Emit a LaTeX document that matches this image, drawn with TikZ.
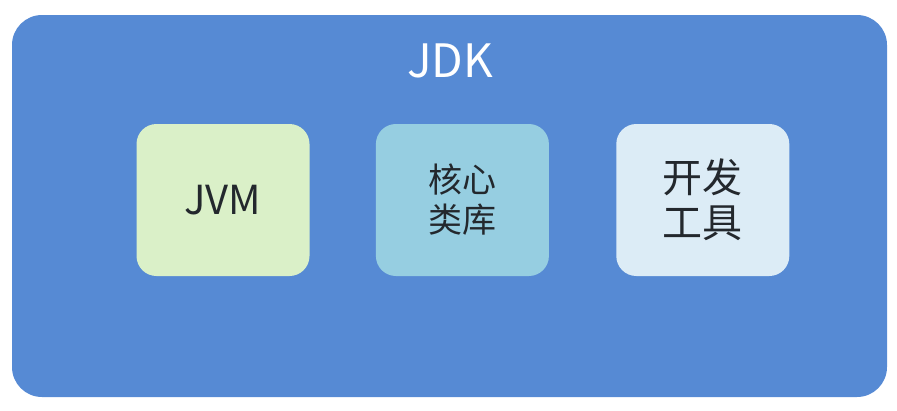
\documentclass[tikz,border=0pt]{standalone}
\usepackage{fontspec}
\setmainfont{Noto Sans CJK SC}
\usetikzlibrary{positioning}
\definecolor{jdkblue}{RGB}{86,138,212}
\definecolor{jvmgreen}{RGB}{218,240,200}
\definecolor{corecyan}{RGB}{150,206,225}
\definecolor{toolblue}{RGB}{220,236,246}
\definecolor{boxtext}{RGB}{35,40,45}

\begin{document}
\begin{tikzpicture}[x=1pt, y=-1pt,
		frame/.style={rectangle, fill=jdkblue, rounded corners=30pt, minimum width=875pt, minimum height=382pt},
		box/.style={rectangle, rounded corners=20pt, minimum width=173pt, minimum height=152pt, align=center, text=boxtext}
	]
		\useasboundingbox (0,0) rectangle (897,410);
		\node[frame] (jdk) at (449.5,206) {};
		\node[text=white, font=\fontsize{46}{50}\selectfont] (title) at (450,61) {JDK};
		\node[box, fill=jvmgreen, font=\fontsize{40}{44}\selectfont] (jvm) at (223,200) {JVM};
		\node[box, fill=corecyan, font=\fontsize{34}{40}\selectfont, right=66pt of jvm] (core) {核心\\类库};
		\node[box, fill=toolblue, font=\fontsize{40}{45}\selectfont, right=67pt of core] (tools) {开发\\工具};
	\end{tikzpicture}
\end{document}
